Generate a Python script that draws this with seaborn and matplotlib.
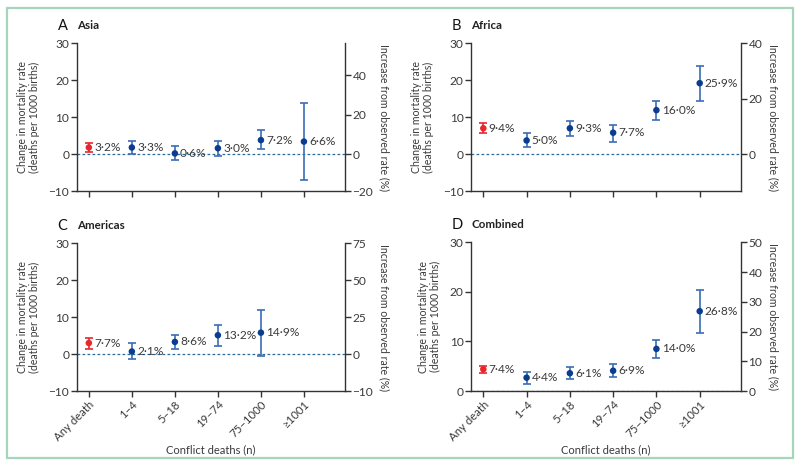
import numpy as np
import pandas as pd
import seaborn as sns
import matplotlib.pyplot as plt
from matplotlib.patches import Rectangle

sns.set_theme(style="ticks")
plt.rcParams['font.family'] = ['Lato', 'DejaVu Sans']

# categories on the x axis
categories = ["Any death", "1–4", "5–18", "19–74", "75–1000", "≥1001"]

# change in mortality rate (point, lower, upper) per region
asia_est = [1.8, 1.8, 0.2, 1.6, 3.8, 3.4]
asia_lo = [0.45, 0.0, -1.6, -0.45, 1.3, -7.0]
asia_hi = [3.0, 3.6, 2.1, 3.6, 6.4, 13.8]
asia_pct = ["3·2%", "3·3%", "0·6%", "3·0%", "7·2%", "6·6%"]

africa_est = [7.0, 3.7, 7.0, 5.8, 11.9, 19.2]
africa_lo = [5.8, 1.8, 4.8, 3.3, 9.3, 14.5]
africa_hi = [8.3, 5.7, 9.0, 8.0, 14.5, 23.9]
africa_pct = ["9·4%", "5·0%", "9·3%", "7·7%", "16·0%", "25·9%"]

americas_est = [3.0, 0.7, 3.3, 5.1, 5.8]
americas_lo = [1.4, -1.4, 1.4, 2.3, -0.5]
americas_hi = [4.4, 2.9, 5.1, 7.9, 11.9]
americas_pct = ["7·7%", "2·1%", "8·6%", "13·2%", "14·9%"]

combined_est = [4.4, 2.7, 3.6, 4.1, 8.5, 16.1]
combined_lo = [3.7, 1.5, 2.5, 2.8, 6.7, 11.8]
combined_hi = [5.1, 3.8, 4.8, 5.5, 10.2, 20.4]
combined_pct = ["7·4%", "4·4%", "6·1%", "6·9%", "14·0%", "26·8%"]

# right axis: % of observed rate per unit of left axis, ticks and the label at the bottom end
right_factor = {"A": 1.87, "B": 4 / 3, "C": 2.5, "D": 5 / 3}
right_ticks = {"A": [0, 20, 40], "B": [0, 20, 40], "C": [0, 25, 50, 75], "D": [0, 10, 20, 30, 40, 50]}
right_bottom_label = {"A": "−20", "B": None, "C": "−10", "D": None}

panels = [
    ("A", "Asia", asia_est, asia_lo, asia_hi, asia_pct, (-10, 30)),
    ("B", "Africa", africa_est, africa_lo, africa_hi, africa_pct, (-10, 30)),
    ("C", "Americas", americas_est, americas_lo, americas_hi, americas_pct, (-10, 30)),
    ("D", "Combined", combined_est, combined_lo, combined_hi, combined_pct, (0, 30)),
]

RED = "#e8262b"
DOT = "#0a3d8f"
BAR = "#3a6db5"
GREY = "#333333"
TXT = "#3a3a3a"
FS = 8.6      # ticks and value labels
LFS = 7.6     # axis titles

fig = plt.figure(figsize=(8, 4.65), dpi=100)
fig.patches.append(Rectangle((0.009, 0.015), 0.982, 0.968, transform=fig.transFigure,
                             fill=False, edgecolor="#a6d5bb", linewidth=1.6))

boxes = {
    "A": [0.096, 0.589, 0.335, 0.318],
    "B": [0.589, 0.589, 0.337, 0.318],
    "C": [0.096, 0.159, 0.335, 0.318],
    "D": [0.589, 0.159, 0.337, 0.320],
}

for letter, name, est, lo, hi, pct, ylim in panels:
    ax = fig.add_axes(boxes[letter])
    df = pd.DataFrame({"x": np.arange(len(est)), "est": est, "lo": lo, "hi": hi, "pct": pct})
    df["group"] = np.where(df["x"] == 0, "any", "sub")

    ax.axhline(0, color="#2c6a9c", linestyle=(0, (2.2, 1.8)), linewidth=0.9, zorder=1)
    for _, r in df.iterrows():
        c = RED if r["group"] == "any" else BAR
        ax.errorbar(r["x"], r["est"], yerr=[[r["est"] - r["lo"]], [r["hi"] - r["est"]]],
                    fmt="none", ecolor=c, elinewidth=1.2, capsize=3, capthick=1.2, zorder=2)
        ax.text(r["x"] + 0.12, r["est"], r["pct"], ha="left", va="center",
                fontsize=FS, color=TXT)
    sns.scatterplot(data=df, x="x", y="est", hue="group", palette={"any": RED, "sub": DOT},
                    s=22, edgecolor="none", legend=False, zorder=3, ax=ax)

    ax.set_xlim(-0.28, 5.95)
    ax.set_ylim(*ylim)
    ax.set_yticks(np.arange(ylim[0], 31, 10))
    ax.set_xticks(range(len(categories)))
    if letter in ("C", "D"):
        ax.set_xticklabels(categories, rotation=45, ha="right", rotation_mode="anchor",
                           fontsize=8.2)
        ax.set_xlabel("Conflict deaths (n)", fontsize=LFS + 0.4, color=TXT, labelpad=1)
    else:
        ax.set_xticklabels([])
        ax.set_xlabel("")
    ax.set_ylabel("Change in mortality rate\n(deaths per 1000 births)", fontsize=LFS,
                  color=TXT, labelpad=6, linespacing=1.15)

    sns.despine(ax=ax, top=True, right=True)
    for s in ("left", "bottom"):
        ax.spines[s].set_color(GREY)
        ax.spines[s].set_linewidth(1.0)
    ax.tick_params(axis="y", labelsize=FS)
    ax.tick_params(axis="both", colors=GREY, labelcolor=TXT, length=4, width=1.0, pad=1.5)

    k = right_factor[letter]
    ax2 = ax.twinx()
    ax2.set_ylim(ylim[0] * k, ylim[1] * k)
    ticks = list(right_ticks[letter])
    labels = [str(t) for t in ticks]
    if right_bottom_label[letter] is not None:
        ticks = [ylim[0] * k] + ticks
        labels = [right_bottom_label[letter]] + labels
    ax2.set_yticks(ticks)
    ax2.set_yticklabels(labels)
    ax2.set_ylabel("Increase from observed rate (%)", fontsize=LFS, color=TXT,
                   rotation=270, labelpad=12)
    for s in ("top", "left", "bottom"):
        ax2.spines[s].set_visible(False)
    ax2.spines["right"].set_color(GREY)
    ax2.spines["right"].set_linewidth(1.0)
    ax2.tick_params(axis="y", colors=GREY, labelcolor=TXT, labelsize=FS, length=4, width=1.0, pad=1.5)
    ax2.grid(False)

    x0 = boxes[letter][0] - 0.024
    y0 = boxes[letter][1] + boxes[letter][3] + 0.038
    fig.text(x0, y0, letter, fontsize=10.5, color="#111111", va="center", ha="left")
    fig.text(x0 + 0.024, y0, name, fontsize=8.3, fontweight="bold", color="#222222",
             va="center", ha="left")

fig.savefig("out.png", dpi=100)
